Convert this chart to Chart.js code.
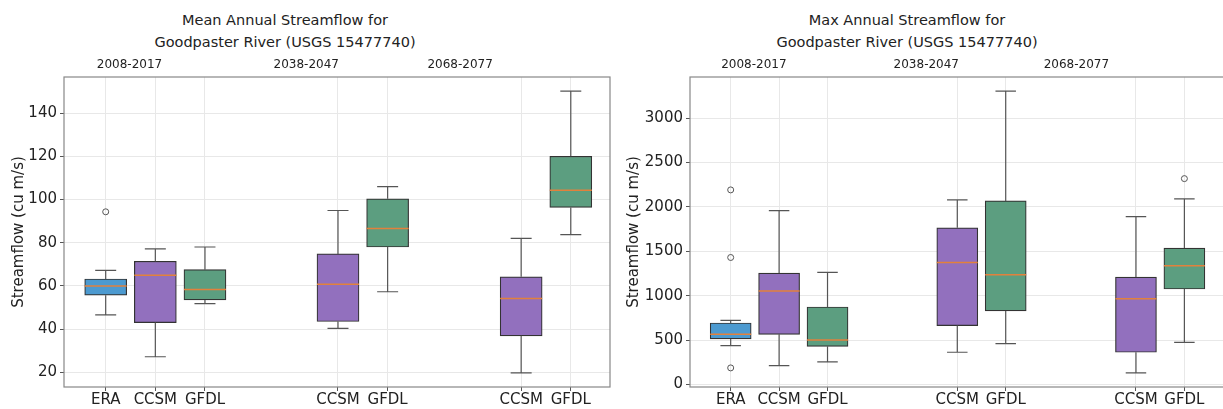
<!DOCTYPE html>
<html>
<head>
<meta charset="utf-8">
<script src="https://cdn.jsdelivr.net/npm/chart.js@4.4.1/dist/chart.umd.min.js"></script>
<style>
    html, body { margin: 0; padding: 0; background: #fff; overflow: hidden; width: 1223px; height: 409px; }
    .title { position: absolute; top: 9px; width: 400px; text-align: center; font: 14.5px 'DejaVu Sans', sans-serif; line-height: 22px; color: #222; }
    canvas { position: absolute; top: 0; }
</style>
</head>
<body>
<div class="title" style="left:85px">Mean Annual Streamflow for<br>Goodpaster River (USGS 15477740)</div>
<div class="title" style="left:707px">Max Annual Streamflow for<br>Goodpaster River (USGS 15477740)</div>
<canvas id="meanChart" width="620" height="409" style="left:0"></canvas>
<canvas id="maxChart" width="620" height="409" style="left:612px"></canvas>
<script>
// box labels and positions on the x axis
var labels = ['ERA', 'CCSM', 'GFDL', 'CCSM', 'GFDL', 'CCSM', 'GFDL'];
var xPos = [1, 2, 3, 5.68, 6.68, 9.37, 10.37];
var periods = ['2008-2017', '2038-2047', '2068-2077'];
var periodPos = [1.48, 5.04, 8.14];

// mean annual streamflow (cu m/s)
var meanLo = [46.6, 27.2, 51.8, 40.3, 57.3, 19.7, 83.7];
var meanQ1 = [55.7, 43.0, 53.5, 43.5, 78.0, 36.9, 96.3];
var meanMed = [60.0, 64.9, 58.3, 60.8, 86.6, 54.2, 104.3];
var meanQ3 = [63.2, 71.4, 67.5, 74.8, 100.3, 64.2, 120.0];
var meanHi = [67.2, 77.1, 78.0, 94.9, 106.0, 82.0, 150.2];
var meanOutX = [1];
var meanOutY = [94.3];
var meanTicks = [20, 40, 60, 80, 100, 120, 140];

// max annual streamflow (cu m/s)
var maxLo = [438, 213, 255, 363, 461, 131, 475];
var maxQ1 = [513, 565, 430, 663, 828, 363, 1075];
var maxMed = [565, 1053, 502, 1374, 1236, 966, 1337];
var maxQ3 = [693, 1255, 873, 1764, 2067, 1210, 1536];
var maxHi = [723, 1958, 1262, 2079, 3303, 1891, 2090];
var maxOutX = [1, 1, 1, 10.37];
var maxOutY = [2191, 1430, 187, 2318];
var maxTicks = [0, 500, 1000, 1500, 2000, 2500, 3000];

var boxColors = ['#4c9ad0', '#9270be', '#5c9e80', '#9270be', '#5c9e80', '#9270be', '#5c9e80'];

Chart.defaults.font.family = 'DejaVu Sans';
Chart.defaults.color = '#222';

function makeChart(id, d) {
    var boxData = xPos.map(function (p, i) {
        return { x: p, y: [d.q1[i], d.q3[i]] };
    });
    var outData = d.outX.map(function (p, i) {
        return { x: p, y: d.outY[i] };
    });

    // whiskers, caps, medians and the axes frame
    var boxExtras = {
        id: 'boxExtras',
        afterDatasetsDraw: function (chart) {
            var x = chart.scales.x, y = chart.scales.y, ctx = chart.ctx;
            var half = d.barW / 2, cap = d.barW / 4;
            ctx.save();
            for (var i = 0; i < xPos.length; i++) {
                var px = x.getPixelForValue(xPos[i]);
                ctx.strokeStyle = '#555';
                ctx.lineWidth = 1.2;
                ctx.beginPath();
                ctx.moveTo(px, y.getPixelForValue(d.q3[i]));
                ctx.lineTo(px, y.getPixelForValue(d.hi[i]));
                ctx.moveTo(px, y.getPixelForValue(d.q1[i]));
                ctx.lineTo(px, y.getPixelForValue(d.lo[i]));
                ctx.moveTo(px - cap, y.getPixelForValue(d.hi[i]));
                ctx.lineTo(px + cap, y.getPixelForValue(d.hi[i]));
                ctx.moveTo(px - cap, y.getPixelForValue(d.lo[i]));
                ctx.lineTo(px + cap, y.getPixelForValue(d.lo[i]));
                ctx.stroke();

                ctx.strokeStyle = '#e2813c';
                ctx.lineWidth = 1.5;
                ctx.beginPath();
                ctx.moveTo(px - half, y.getPixelForValue(d.med[i]));
                ctx.lineTo(px + half, y.getPixelForValue(d.med[i]));
                ctx.stroke();
            }
            ctx.restore();
        },
        afterDraw: function (chart) {
            var a = chart.chartArea, ctx = chart.ctx;
            ctx.save();
            ctx.strokeStyle = '#888';
            ctx.lineWidth = 1.2;
            ctx.strokeRect(a.left, a.top, a.right - a.left, a.bottom - a.top);
            ctx.restore();
        }
    };

    return new Chart(document.getElementById(id), {
        type: 'bar',
        data: {
            datasets: [{
                type: 'bar',
                data: boxData,
                backgroundColor: boxColors,
                borderColor: '#333',
                borderWidth: 1.2,
                borderSkipped: false,
                barThickness: d.barW,
                grouped: false
            }, {
                type: 'scatter',
                data: outData,
                pointRadius: 3,
                pointStyle: 'circle',
                backgroundColor: 'rgba(0,0,0,0)',
                borderColor: '#555',
                borderWidth: 1
            }]
        },
        options: {
            responsive: false,
            animation: false,
            devicePixelRatio: 1,
            layout: { padding: { left: d.padL, right: d.padR, top: 0, bottom: 0 } },
            plugins: { legend: { display: false }, tooltip: { enabled: false } },
            scales: {
                x: {
                    type: 'linear',
                    min: 0.16,
                    max: d.xMax,
                    offset: false,
                    grid: { color: '#e8e8e8', tickColor: '#555', tickLength: 4, offset: false },
                    border: { display: false },
                    afterBuildTicks: function (s) {
                        s.ticks = xPos.map(function (v) { return { value: v }; });
                    },
                    afterFit: function (s) { s.height = 22; },
                    ticks: {
                        autoSkip: false, maxRotation: 0, padding: 0,
                        font: { size: 15 },
                        callback: function (v, i) { return labels[i]; }
                    }
                },
                x2: {
                    type: 'linear',
                    position: 'top',
                    min: 0.16,
                    max: d.xMax,
                    offset: false,
                    grid: { display: false, drawTicks: false },
                    border: { display: false },
                    afterBuildTicks: function (s) {
                        s.ticks = periodPos.map(function (v) { return { value: v }; });
                    },
                    afterFit: function (s) { s.height = 77; },
                    ticks: {
                        autoSkip: false, maxRotation: 0, padding: 5,
                        font: { size: 12 },
                        callback: function (v, i) { return periods[i]; }
                    }
                },
                y: {
                    min: d.yMin,
                    max: d.yMax,
                    grid: { color: '#e8e8e8', tickColor: '#555', tickLength: 4 },
                    border: { display: false },
                    afterBuildTicks: function (s) {
                        s.ticks = d.ticks.map(function (v) { return { value: v }; });
                    },
                    afterFit: function (s) { s.width = d.yW; },
                    ticks: {
                        font: { size: 15 }, padding: 3,
                        callback: function (v) { return String(v); }
                    },
                    title: { display: true, text: 'Streamflow (cu m/s)', font: { size: 15 } }
                }
            }
        },
        plugins: [boxExtras]
    });
}

makeChart('meanChart', {
    lo: meanLo, q1: meanQ1, med: meanMed, q3: meanQ3, hi: meanHi,
    outX: meanOutX, outY: meanOutY, ticks: meanTicks,
    yMin: 13.2, yMax: 156.7, xMax: 11.16, barW: 42, padL: 6, padR: 10, yW: 58
});

makeChart('maxChart', {
    lo: maxLo, q1: maxQ1, med: maxMed, q3: maxQ3, hi: maxHi,
    outX: maxOutX, outY: maxOutY, ticks: maxTicks,
    yMin: -28, yMax: 3462, xMax: 11.25, barW: 41, padL: 9, padR: 4, yW: 69
});
</script>
</body>
</html>
